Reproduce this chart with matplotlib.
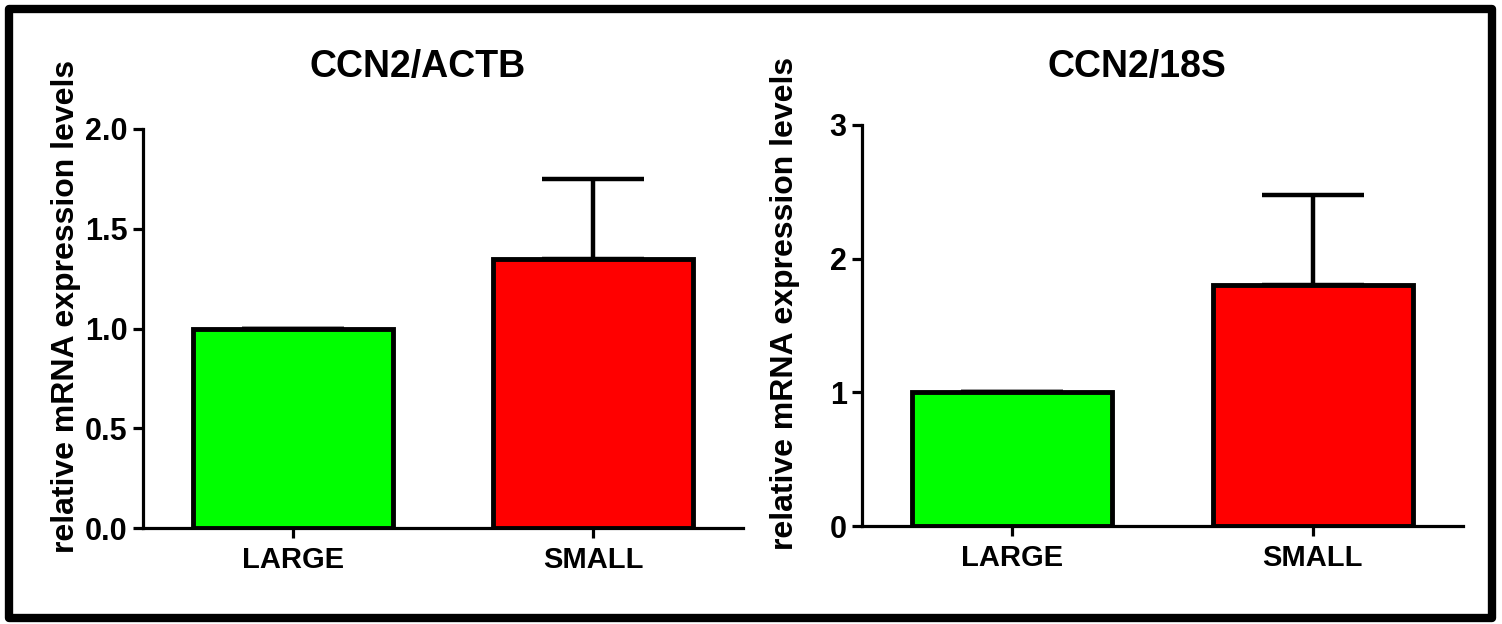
import matplotlib
matplotlib.use("Agg")
import matplotlib.pyplot as plt
from matplotlib.patches import Rectangle

plt.rcParams['font.family'] = ['Liberation Sans', 'DejaVu Sans']
plt.rcParams['font.weight'] = 'bold'

groups = ["LARGE", "SMALL"]
colors = ["#00FF00", "#FF0000"]

actb_means = [1.0, 1.35]
actb_err = [0.0, 0.40]

s18_means = [1.0, 1.80]
s18_err = [0.0, 0.68]

titles = ["CCN2/ACTB", "CCN2/18S"]
ylabel = "relative mRNA expression levels"


def draw_panel(ax, means, errs, title, yticks, ticklabels):
    x = list(range(len(groups)))
    ax.bar(x, means, width=2 / 3, color=colors, edgecolor="black",
           linewidth=3.5, zorder=2)
    # only the upper half of the error bar shows above the bar
    ax.errorbar(x, means, yerr=[[0] * len(errs), errs], fmt="none",
                ecolor="black", elinewidth=3.2, capsize=37, capthick=3.2,
                zorder=1)
    ax.set_xlim(-0.5, 1.5)
    ax.set_ylim(yticks[0], yticks[-1])
    ax.set_yticks(yticks)
    ax.set_yticklabels(ticklabels)
    ax.set_xticks(x)
    ax.set_xticklabels(groups)
    for side in ["top", "right"]:
        ax.spines[side].set_visible(False)
    for side in ["left", "bottom"]:
        ax.spines[side].set_linewidth(2.3)
    ax.tick_params(axis="y", direction="out", length=7, width=2.3,
                   labelsize=22, pad=4)
    ax.tick_params(axis="x", direction="out", length=7, width=2.3,
                   labelsize=21, pad=6)
    ax.set_ylabel(ylabel, fontsize=23, fontweight="bold")
    ax.yaxis.set_label_coords(-0.103, 0.555)
    ax.text(0.458, 1.0, title, transform=ax.transAxes, ha="center",
            va="baseline", fontsize=27, fontweight="bold")
    return ax


fig = plt.figure(figsize=(15.02, 6.24), dpi=100)
W, H = 1502, 624

ax1 = fig.add_axes([143 / W, (H - 528) / H, 600 / W, 399 / H])
ax2 = fig.add_axes([862 / W, (H - 526) / H, 601 / W, 401 / H])

draw_panel(ax1, actb_means, actb_err, titles[0],
           [0.0, 0.5, 1.0, 1.5, 2.0], ["0.0", "0.5", "1.0", "1.5", "2.0"])
draw_panel(ax2, s18_means, s18_err, titles[1],
           [0, 1, 2, 3], ["0", "1", "2", "3"])

# titles sit at the same height in both panels
for ax in (ax1, ax2):
    t = ax.texts[-1]
    t.set_transform(matplotlib.transforms.blended_transform_factory(
        ax.transAxes, fig.transFigure))
    t.set_y((H - 77) / H)

frame = Rectangle((9 / W, 6 / H), (1492 - 9) / W, (618 - 9) / H,
                  transform=fig.transFigure, fill=False,
                  edgecolor="black", linewidth=6, joinstyle="round")
fig.patches.append(frame)

fig.savefig("out.png", dpi=100)
